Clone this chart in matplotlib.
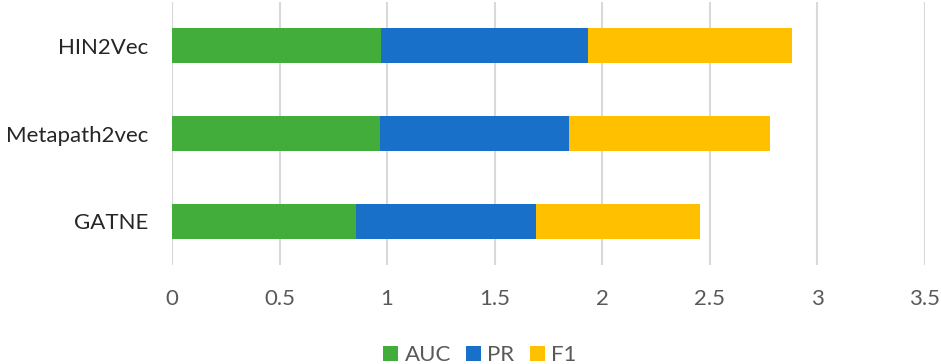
import matplotlib.pyplot as plt
import numpy as np

models = ["GATNE", "Metapath2vec", "HIN2Vec"]
auc = [0.854, 0.969, 0.972]
pr = [0.837, 0.878, 0.961]
f1 = [0.767, 0.935, 0.951]

series = [("AUC", auc, "#43ad3b"), ("PR", pr, "#1870c8"), ("F1", f1, "#ffc000")]
text_color = "#595959"

plt.rcParams["font.family"] = ["Lato", "DejaVu Sans"]

fig = plt.figure(figsize=(9.41, 3.64), dpi=100)
ax = fig.add_axes([172 / 941, 1 - 265 / 364, 752.5 / 941, 263 / 364])

y = np.arange(len(models))
left = np.zeros(len(models))
for name, vals, color in series:
    ax.barh(y, vals, left=left, height=0.4, color=color, label=name, zorder=3)
    left += np.array(vals)

ax.set_xlim(0, 3.5)
ax.set_ylim(-0.5, len(models) - 0.5)
ax.set_xticks(np.arange(0, 3.51, 0.5))
ax.set_xticklabels(["0", "0.5", "1", "1.5", "2", "2.5", "3", "3.5"])
ax.set_yticks(y)
ax.set_yticklabels(models)
ax.grid(axis="x", color="#d9d9d9", linewidth=1.5, zorder=0)
for s in ax.spines.values():
    s.set_visible(False)
ax.tick_params(axis="both", length=0, labelsize=16)
ax.tick_params(axis="x", pad=17, labelcolor=text_color)
ax.tick_params(axis="y", pad=17, labelcolor="#262626")

fig.legend(loc="center", bbox_to_anchor=(480 / 941, 1 - 355 / 364), ncol=3,
           frameon=False, fontsize=16, labelcolor=text_color,
           handlelength=0.65, handleheight=0.65, handletextpad=0.3, columnspacing=0.7)

fig.savefig("out.png", dpi=100)
